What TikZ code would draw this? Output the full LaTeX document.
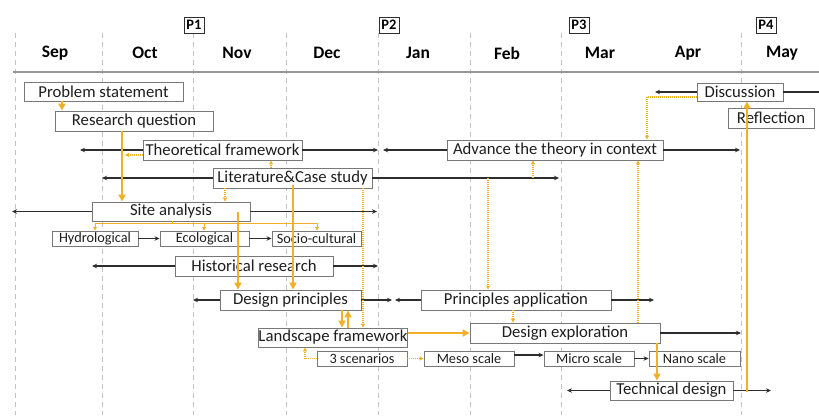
\documentclass[tikz,border=0pt]{standalone}
\usepackage{fontspec}
\setmainfont{Carlito}
\usetikzlibrary{arrows.meta}
\definecolor{org}{RGB}{240,176,40}
\definecolor{boxgray}{RGB}{120,120,120}
\definecolor{linegray}{RGB}{45,45,45}
\definecolor{gridgray}{RGB}{195,195,195}
\definecolor{headgray}{RGB}{150,150,150}
\definecolor{txt}{RGB}{30,30,30}
\begin{document}
\begin{tikzpicture}[x=1pt,y=-1pt,
  box/.style={draw=boxgray, line width=0.9pt, fill=white, inner sep=0pt, text=txt, font=\fontsize{16.7}{18}\selectfont},
  sbox/.style={box, font=\fontsize{14.3}{16}\selectfont},
  month/.style={inner sep=0pt, font=\bfseries\fontsize{17.5}{19}\selectfont},
  pbox/.style={draw=linegray, line width=0.9pt, fill=white, inner sep=1.5pt, minimum width=20pt, minimum height=16pt, font=\bfseries\fontsize{14.5}{16}\selectfont},
  grid/.style={draw=gridgray, line width=0.8pt, dash pattern=on 5pt off 4pt},
  blk/.style={draw=linegray, line width=1.1pt, -{Stealth[length=5pt,width=4.5pt]}},
  plain/.style={draw=linegray, line width=1.1pt},
  thk/.style={draw=org, line width=2.5pt, -{Triangle[length=7pt,width=7pt]}},
  dot/.style={draw=org, line width=1.1pt, dash pattern=on 1pt off 1pt, -{Triangle[length=4pt,width=4pt]}},
  dotl/.style={draw=org, line width=1.1pt, dash pattern=on 1pt off 1pt},
  thn/.style={draw=org, line width=0.9pt, -{Triangle[length=3.5pt,width=3.5pt]}},
  thnl/.style={draw=org, line width=0.9pt}]
\useasboundingbox (0,0) rectangle (819,415);
\fill[white] (0,0) rectangle (819,415);

% grid
\foreach \gx in {15,102,193,286,378,470,561,741}
  \draw[grid] (\gx,33) -- (\gx,415);
\draw[headgray, line width=1.2pt] (13,72) -- (819,72);

% header
\node[month] (msep) at (55,53) {Sep};
\node[month] (moct) at (145,53) {Oct};
\node[month] (mnov) at (237,53) {Nov};
\node[month] (mdec) at (327,53) {Dec};
\node[month] (mjan) at (418,53) {Jan};
\node[month] (mfeb) at (507,53) {Feb};
\node[month] (mmar) at (600,53) {Mar};
\node[month] (mapr) at (688,53) {Apr};
\node[month] (mmay) at (782,53) {May};
\node[pbox] (p1) at (194,25) {P1};
\node[pbox] (p2) at (389,25) {P2};
\node[pbox] (p3) at (579,25) {P3};
\node[pbox] (p4) at (766,25) {P4};

% boxes
\node[box, minimum width=159pt, minimum height=19pt] (ps) at (103.5,91.5) {Problem statement};
\node[box, minimum width=158pt, minimum height=20pt] (rq) at (134,121) {Research question};
\node[box, minimum width=159pt, minimum height=20pt] (tf) at (222.5,150) {Theoretical framework};
\node[box, minimum width=216pt, minimum height=20pt] (atc) at (555,150) {Advance the theory in context};
\node[box, minimum width=159pt, minimum height=20pt] (lcs) at (292.5,178) {Literature\&Case study};
\node[box, minimum width=158pt, minimum height=19pt] (sa) at (171,211.5) {Site analysis};
\node[sbox, minimum width=86pt, minimum height=15pt] (hyd) at (95,238.5) {Hydrological};
\node[sbox, minimum width=89pt, minimum height=15pt] (eco) at (204.5,238.5) {Ecological};
\node[sbox, minimum width=89pt, minimum height=15pt] (soc) at (316.5,238.5) {Socio-cultural};
\node[box, minimum width=158pt, minimum height=20pt] (hr) at (254,266) {Historical research};
\node[box, minimum width=141pt, minimum height=20pt] (dp) at (290.5,300) {Design principles};
\node[box, minimum width=190pt, minimum height=20pt] (pa) at (516,300) {Principles application};
\node[box, minimum width=148pt, minimum height=19pt] (lf) at (333,337.5) {Landscape framework};
\node[box, minimum width=190pt, minimum height=20pt] (de) at (565,333) {Design exploration};
\node[sbox, minimum width=90pt, minimum height=15pt] (sc) at (362,358.5) {3 scenarios};
\node[sbox, minimum width=90pt, minimum height=15pt] (meso) at (469,358.5) {Meso scale};
\node[sbox, minimum width=90pt, minimum height=15pt] (micro) at (589,358.5) {Micro scale};
\node[sbox, minimum width=91pt, minimum height=15pt] (nano) at (694.5,358.5) {Nano scale};
\node[box, minimum width=123pt, minimum height=19pt] (td) at (671.5,390.5) {Technical design};
\node[box, minimum width=86pt, minimum height=18pt] (disc) at (740,92) {Discussion};
\node[box, minimum width=86pt, minimum height=20pt] (refl) at (771,118) {Reflection};

% free ends
\coordinate (discL) at (655,92);
\coordinate (discR) at (819,92);
\coordinate (tfL) at (80,150);
\coordinate (tfR) at (378,150);
\coordinate (atcL) at (383,150);
\coordinate (atcR) at (740,150);
\coordinate (lcsL) at (102,178);
\coordinate (lcsR) at (559,178);
\coordinate (saL) at (12,211.5);
\coordinate (saR) at (377,211.5);
\coordinate (hrL) at (92,266);
\coordinate (hrR) at (378,266);
\coordinate (dpL) at (193,300);
\coordinate (dpR) at (392,300);
\coordinate (paL) at (395,300);
\coordinate (paR) at (654,300);
\coordinate (deR) at (741,333);
\coordinate (tdL) at (567,390.5);
\coordinate (tdR) at (771,390.5);

% black timeline arrows
\draw[blk] (disc.west) -- (discL);
\draw[plain] (disc.east) -- (discR);
\draw[blk] (tf.west) -- (tfL);
\draw[blk] (tf.east) -- (tfR);
\draw[blk] (atc.west) -- (atcL);
\draw[blk] (atc.east) -- (atcR);
\draw[blk] (lcs.west) -- (lcsL);
\draw[blk] (lcs.east) -- (lcsR);
\draw[blk] (sa.west) -- (saL);
\draw[blk] (sa.east) -- (saR);
\draw[blk] (hyd.east) -- (eco.west);
\draw[blk] (eco.east) -- (soc.west);
\draw[blk] (hr.west) -- (hrL);
\draw[blk] (hr.east) -- (hrR);
\draw[blk] (dp.west) -- (dpL);
\draw[blk] (dp.east) -- (dpR);
\draw[blk] (pa.west) -- (paL);
\draw[blk] (pa.east) -- (paR);
\draw[blk] (de.east) -- (deR);
\draw[blk] (meso.east |- 0,355) -- (micro.west |- 0,355);
\draw[blk] (micro.east) -- (nano.west);
\draw[blk] (td.west) -- (tdL);
\draw[blk] (td.east) -- (tdR);

% orange thick
\draw[thk] (ps.south -| 62,0) -- (rq.north -| 62,0);
\draw[thk] (rq.south -| 122,0) -- (sa.north -| 122,0);
\draw[thk] (sa.center -| 238,0) -- (dp.north -| 238,0);
\draw[thk] (lcs.south -| 293,0) ++(0,-3) -- (dp.north -| 293,0);
\draw[thk] (dp.south -| 342,0) -- (lf.north -| 342,0);
\draw[thk] (lf.north -| 348,0) -- (dp.south -| 348,0);
\draw[thk] (lf.east |- 0,333) -- (de.west);
\draw[thk] (de.south -| 657,0) -- (td.north -| 657,0);
\draw[thk] (td.south -| 747,0) ++(0,-8) -- (disc.south -| 747,0);

% orange dotted
\coordinate (rqline) at (125,155);
\draw[dot] (tf.west |- 0,155) -- (rqline);
\draw[dot] (lcs.north -| 271,0) -- (tf.south -| 271,0);
\draw[dot] (lcs.south -| 225,0) -- (sa.north -| 225,0);
\draw[dot] (lcs.south -| 363,0) -- (lf.north -| 363,0);
\draw[dotl] (sc.west) -- (305,358.5);
\draw[dot] (305,358.5) -- (lf.south -| 305,0);
\draw[dot] (sc.east) -- (meso.west);
\coordinate (lcs533) at (533,178);
\coordinate (lcs488) at (488,178);
\draw[dot] (lcs533) -- (atc.south -| 533,0);
\draw[dot] (lcs488) -- (pa.north -| 488,0);
\draw[dot] (pa.south -| 513,0) -- (de.north -| 513,0);
\draw[dot] (de.north -| 638,0) -- (atc.south -| 638,0);
\draw[dotl] (disc.west |- 0,97) -- (647,97);
\draw[dot] (647,97) -- (atc.north -| 647,0);

% site analysis branches
\draw[thnl] (sa.south -| 172,0) -- (172,223);
\draw[thnl] (95,223) -- (317,223);
\draw[thn] (95,223) -- (hyd.north -| 95,0);
\draw[thn] (204,223) -- (eco.north -| 204,0);
\draw[thn] (317,223) -- (soc.north -| 317,0);
\end{tikzpicture}
\end{document}
